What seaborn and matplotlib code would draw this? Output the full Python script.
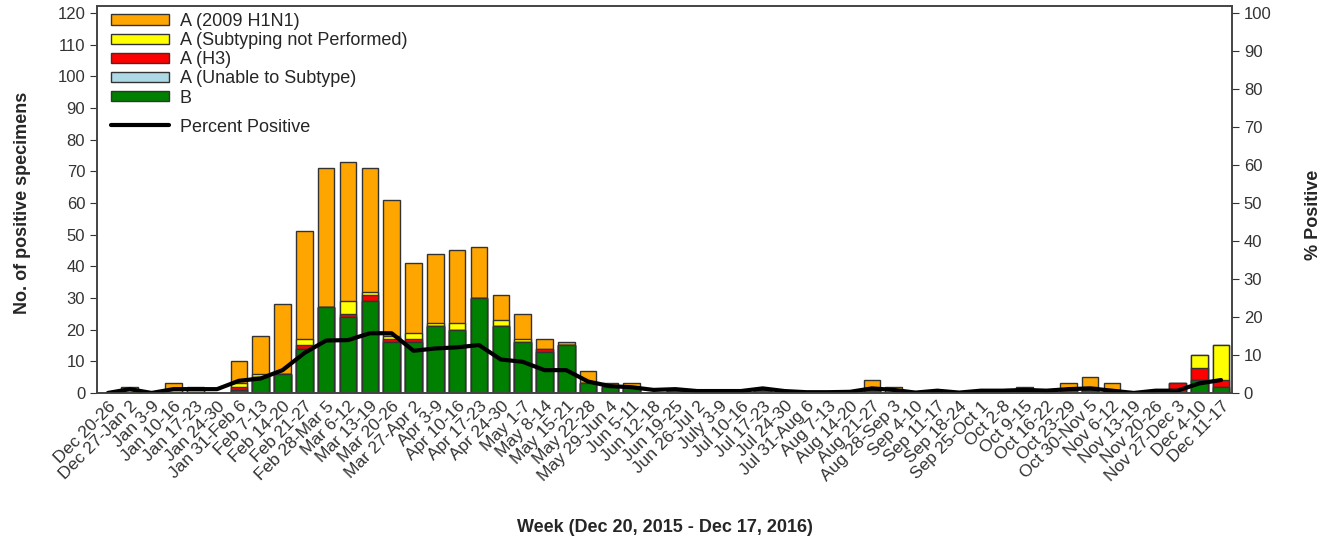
import numpy as np
import pandas as pd
import seaborn as sns
import matplotlib.pyplot as plt
from matplotlib.patches import Patch
from matplotlib.lines import Line2D

# weekly labels
weeks = ['Dec 20-26', 'Dec 27-Jan 2', 'Jan 3-9', 'Jan 10-16', 'Jan 17-23', 'Jan 24-30',
         'Jan 31-Feb 6', 'Feb 7-13', 'Feb 14-20', 'Feb 21-27', 'Feb 28-Mar 5', 'Mar 6-12',
         'Mar 13-19', 'Mar 20-26', 'Mar 27-Apr 2', 'Apr 3-9', 'Apr 10-16', 'Apr 17-23',
         'Apr 24-30', 'May 1-7', 'May 8-14', 'May 15-21', 'May 22-28', 'May 29-Jun 4',
         'Jun 5-11', 'Jun 12-18', 'Jun 19-25', 'Jun 26-Jul 2', 'July 3-9', 'Jul 10-16',
         'Jul 17-23', 'Jul 24-30', 'Jul 31-Aug 6', 'Aug 7-13', 'Aug 14-20', 'Aug 21-27',
         'Aug 28-Sep 3', 'Sep 4-10', 'Sep 11-17', 'Sep 18-24', 'Sep 25-Oct 1', 'Oct 2-8',
         'Oct 9-15', 'Oct 16-22', 'Oct 23-29', 'Oct 30-Nov 5', 'Nov 6-12', 'Nov 13-19',
         'Nov 20-26', 'Nov 27-Dec 3', 'Dec 4-10', 'Dec 11-17']

# counts per subtype
b_counts = [0, 0, 0, 0, 0, 0, 1, 5, 6, 14, 27, 24, 29, 16, 16, 21, 20, 30, 21, 16, 13, 15, 3, 2,
            2, 0, 1, 0, 0, 0, 1, 0, 0, 0, 0, 1, 0, 0, 0, 0, 0, 0, 0, 0, 0, 1, 0, 0, 0, 0, 4, 2]
a_unable = [0] * 52
a_h3 = [0, 0, 0, 0, 0, 0, 1, 0, 0, 1, 0, 1, 2, 1, 1, 0, 0, 0, 0, 0, 1, 0, 0, 0,
        0, 0, 0, 0, 0, 0, 0, 0, 0, 0, 0, 0, 0, 0, 0, 0, 0, 0, 0, 0, 1, 0, 1, 0, 0, 3, 4, 2]
a_not_sub = [0, 0, 0, 1, 1, 0, 1, 1, 0, 2, 0, 4, 1, 1, 2, 1, 2, 0, 2, 1, 0, 0, 0, 0,
             0, 0, 0, 0, 0, 0, 0, 0, 0, 0, 0, 0, 0, 0, 0, 0, 0, 0, 0, 0, 0, 1, 0, 0, 0, 0, 4, 11]
a_h1n1 = [0, 2, 0, 2, 1, 0, 7, 12, 22, 34, 44, 44, 39, 43, 22, 22, 23, 16, 8, 8, 3, 1, 4, 1,
          1, 0, 0, 0, 0, 0, 0, 0, 0, 0, 0, 3, 2, 0, 0, 0, 0, 0, 2, 0, 2, 3, 2, 0, 0, 0, 0, 0]

# percent positive (right axis)
pct_pos = [0, 1, 0, 1, 1, 1, 3.2, 3.8, 6, 10.5, 13.8, 13.9, 15.7, 15.7, 11.1, 11.7, 12, 12.6,
           8.8, 8.2, 6, 6, 3, 1.8, 1.5, 0.8, 1, 0.5, 0.5, 0.5, 1.2, 0.5, 0.2, 0.2, 0.3, 1.2,
           0.8, 0.1, 0.6, 0.1, 0.6, 0.6, 0.8, 0.6, 1.0, 1.2, 0.6, 0, 0.6, 0.6, 2.5, 3.4]

series = [('B', b_counts, '#008000'),
          ('A (Unable to Subtype)', a_unable, '#ADD8E6'),
          ('A (H3)', a_h3, '#FF0000'),
          ('A (Subtyping not Performed)', a_not_sub, '#FFFF00'),
          ('A (2009 H1N1)', a_h1n1, '#FFA500')]

sns.set_style('white')
plt.rcParams['font.family'] = ['Liberation Sans', 'DejaVu Sans']

fig, ax = plt.subplots(figsize=(13.29, 5.42), dpi=100)
fig.subplots_adjust(left=0.073, right=0.927, top=0.989, bottom=0.275)

# stacked bars: draw cumulative totals from the top layer down
cum = np.cumsum([np.array(s[1]) for s in series], axis=0)
for k in range(len(series) - 1, -1, -1):
    df = pd.DataFrame({'week': weeks, 'value': cum[k]})
    df = df[df['value'] > 0]
    sns.barplot(data=df, x='week', y='value', order=weeks, color=series[k][2],
                saturation=1, width=0.76, edgecolor='#333333', linewidth=1, ax=ax)

ax.set_xlim(-0.5, 51.5)
ax.set_ylim(0, 122.2)
ax.set_yticks(range(0, 121, 10))
ax.set_ylabel('No. of positive specimens', fontsize=13, fontweight='bold')
ax.yaxis.set_label_coords(-0.058, 0.49)
ax.set_xlabel('Week (Dec 20, 2015 - Dec 17, 2016)', fontsize=13, fontweight='bold', labelpad=25)
ax.set_xticks(range(52))
ax.set_xticklabels(weeks, rotation=45, ha='right', rotation_mode='anchor', fontsize=12.5)
ax.tick_params(axis='y', labelsize=12, length=5, left=True, colors='#333333')
ax.tick_params(axis='x', length=0, pad=4, colors='#333333')

# percent positive line
ax2 = ax.twinx()
sns.lineplot(x=np.arange(52), y=pct_pos, color='black', linewidth=3, ax=ax2)
ax2.set_ylim(0, 101.8)
ax2.set_yticks(range(0, 101, 10))
ax2.tick_params(axis='y', labelsize=12, length=5, right=True, colors='#333333')
ax2.set_ylabel('% Positive', fontsize=13, fontweight='bold')
ax2.yaxis.set_label_coords(1.064, 0.46)

for a in (ax, ax2):
    for sp in a.spines.values():
        sp.set_color('#444444')
        sp.set_linewidth(1.2)

# legend
handles = [Patch(facecolor=c, edgecolor='#333333', label=n) for n, v, c in series[::-1]]
leg1 = ax2.legend(handles=handles, loc='upper left', bbox_to_anchor=(0.0123, 0.982),
                  frameon=False, fontsize=13, handlelength=3.2, handleheight=0.5,
                  handletextpad=0.6, labelspacing=0.12, borderpad=0, borderaxespad=0)
ax2.add_artist(leg1)
ax2.legend(handles=[Line2D([], [], color='black', linewidth=3, label='Percent Positive')],
           loc='center left', bbox_to_anchor=(0.0123, 0.687), frameon=False, fontsize=13,
           handlelength=3.2, handletextpad=0.6, borderpad=0, borderaxespad=0)

fig.savefig('out.png', dpi=100)
